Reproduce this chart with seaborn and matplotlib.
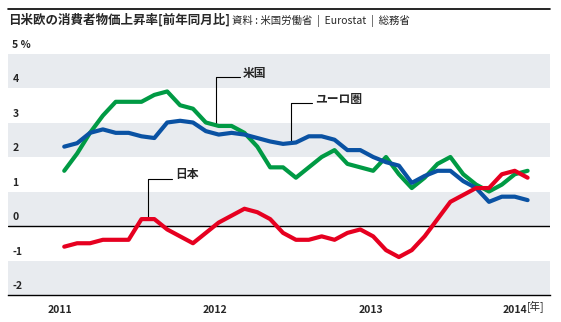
import numpy as np
import pandas as pd
import matplotlib
matplotlib.use("Agg")
import matplotlib.pyplot as plt
import seaborn as sns

# Consumer price inflation, year-on-year %, monthly Jan 2011 - Jan 2014
months = list(range(37))
us = [1.6, 2.1, 2.7, 3.2, 3.6, 3.6, 3.6, 3.8, 3.9, 3.5, 3.4, 3.0,
      2.9, 2.9, 2.7, 2.3, 1.7, 1.7, 1.4, 1.7, 2.0, 2.2, 1.8, 1.7,
      1.6, 2.0, 1.5, 1.1, 1.4, 1.8, 2.0, 1.5, 1.2, 1.0, 1.2, 1.5, 1.6]
euro = [2.3, 2.4, 2.7, 2.8, 2.7, 2.7, 2.6, 2.55, 3.0, 3.05, 3.0, 2.75,
        2.65, 2.7, 2.65, 2.55, 2.45, 2.38, 2.42, 2.6, 2.6, 2.5, 2.2, 2.2,
        2.0, 1.85, 1.75, 1.25, 1.45, 1.6, 1.6, 1.3, 1.1, 0.7, 0.85, 0.85, 0.75]
japan = [-0.6, -0.5, -0.5, -0.4, -0.4, -0.4, 0.2, 0.2, -0.1, -0.3, -0.5, -0.2,
         0.1, 0.3, 0.5, 0.4, 0.2, -0.2, -0.4, -0.4, -0.3, -0.4, -0.2, -0.1,
         -0.3, -0.7, -0.9, -0.7, -0.3, 0.2, 0.7, 0.9, 1.1, 1.1, 1.5, 1.6, 1.4]
series_names = ["米国", "ユーロ圏", "日本"]
year_labels = ["2011", "2012", "2013", "2014"]
y_ticks = [-2, -1, 0, 1, 2, 3, 4, 5]

colors = {"米国": "#009a44", "ユーロ圏": "#0a52a3", "日本": "#e60020"}

df = pd.DataFrame({
    "month": months * 3,
    "value": us + euro + japan,
    "region": sum([[n] * len(months) for n in series_names], []),
})

sns.set_style("white")
plt.rcParams["font.family"] = ["Noto Sans CJK JP", "DejaVu Sans"]

fig = plt.figure(figsize=(5.61, 3.22), dpi=100)
ax = fig.add_axes([8 / 561, 1 - 295 / 322, 542 / 561, (295 - 53.5) / 322])

# shaded bands
for lo in (-2, 0, 2, 4):
    ax.axhspan(lo, lo + 1, color="#e8ebef", lw=0, zorder=0)
ax.axhline(0, color="black", lw=1.0, zorder=1)

sns.lineplot(data=df, x="month", y="value", hue="region", hue_order=series_names,
             palette=colors, lw=3.0, legend=False, ax=ax, zorder=3)

ax.set_xlim(-4.37, 37.74)
ax.set_ylim(-2, 5)
for s in ("top", "right", "left"):
    ax.spines[s].set_visible(False)
ax.spines["bottom"].set_color("black")
ax.spines["bottom"].set_linewidth(1.0)
ax.set_xlabel("")
ax.set_ylabel("")
ax.set_yticks([])

# year labels
ax.set_xticks([-0.3, 11.7, 23.8, 34.98])
ax.set_xticklabels(year_labels, fontsize=7.5, fontweight="bold")
ax.tick_params(axis="x", length=0, pad=7)
ax.text(35.95, -2.34, "[年]", fontsize=7.5, ha="left", va="center", clip_on=False)

# value labels sit just above each gridline
for v in y_ticks:
    lab = f"{v} %" if v == 5 else str(v)
    ax.text(0.008, v + 0.26, lab, transform=ax.get_yaxis_transform(),
            fontsize=7.5, fontweight="bold", ha="left", va="center", clip_on=False)

# leader lines and series names
leaders = {
    "米国": ([11.8, 11.8, 13.65], [2.93, 4.33, 4.33], (13.85, 4.43)),
    "ユーロ圏": ([17.6, 17.6, 19.22], [2.4, 3.56, 3.56], (19.5, 3.67)),
    "日本": ([6.53, 6.53, 8.34], [0.2, 1.35, 1.35], (8.6, 1.49)),
}
for name, (lx, ly, (tx, ty)) in leaders.items():
    ax.plot(lx, ly, color="black", lw=0.8, zorder=2)
    ax.text(tx, ty, name, fontsize=8.5, fontweight="bold", ha="left", va="center")

# title block
fig.add_artist(plt.Line2D([8 / 561, 550 / 561], [1 - 9.3 / 322] * 2,
                          color="black", lw=1.2))
fig.text(8 / 561, 1 - 20 / 322, "日米欧の消費者物価上昇率[前年同月比]",
         fontsize=9, fontweight="bold", ha="left", va="center")
fig.text(232 / 561, 1 - 20.5 / 322, "資料 : 米国労働省  |  Eurostat  |  総務省",
         fontsize=7.5, ha="left", va="center")

fig.savefig("out.png", dpi=100)
